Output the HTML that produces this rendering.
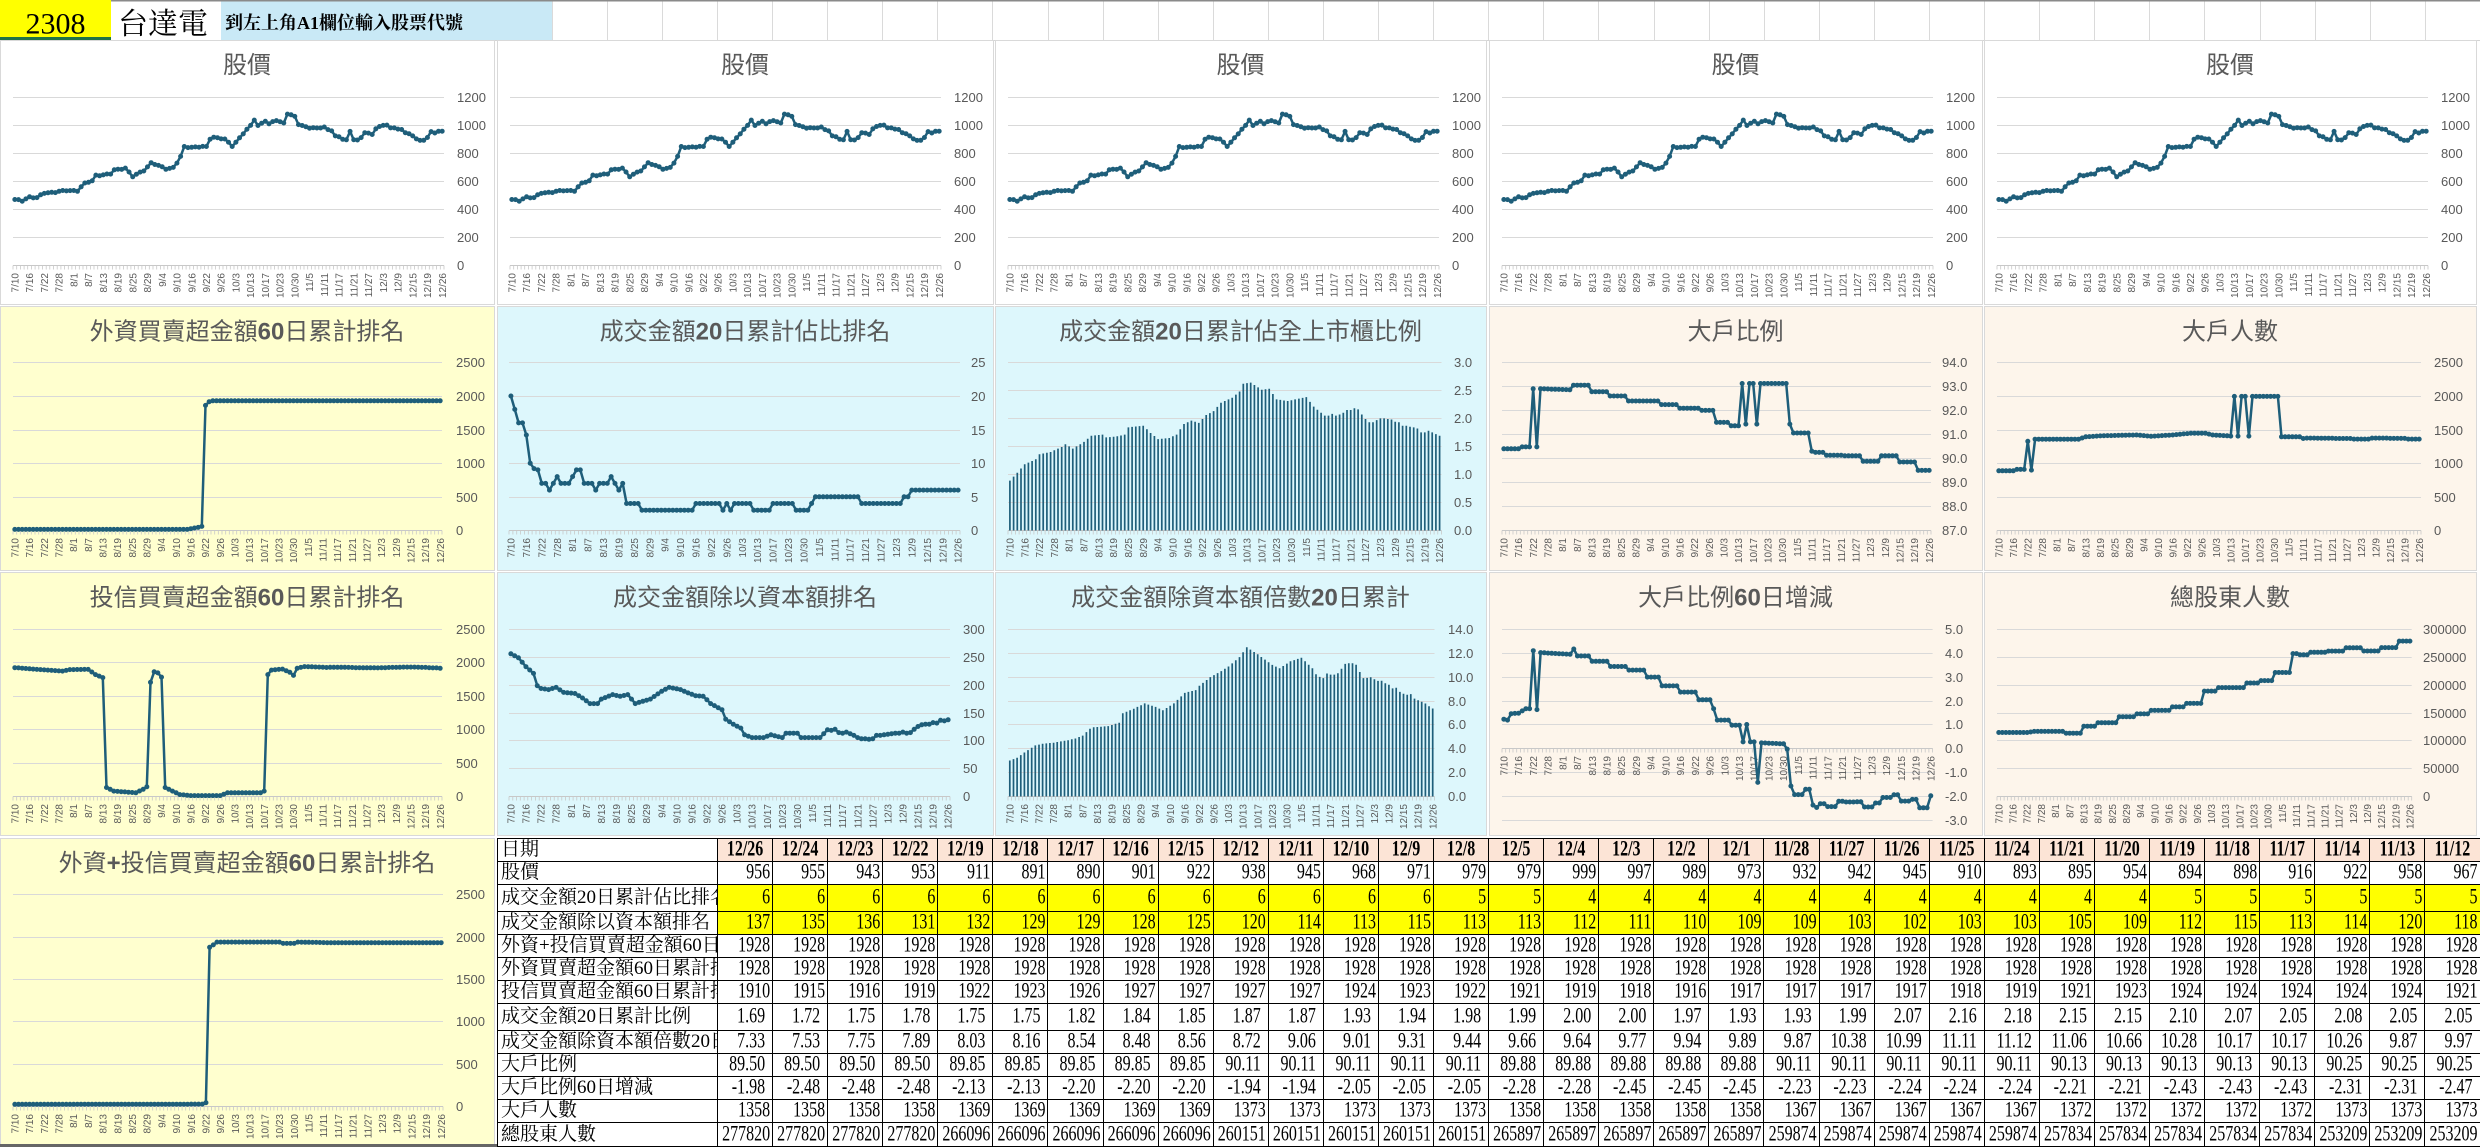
<!DOCTYPE html>
<html><head><meta charset="utf-8">
<style>
body{margin:0;width:2480px;height:1147px;overflow:hidden;background:#fff;position:relative;font-family:"Liberation Sans",sans-serif}
#c{position:absolute;left:0;top:0}
.t{font-family:"Noto Sans CJK TC","Noto Sans CJK SC",sans-serif;font-size:24px;fill:#595959;text-anchor:middle}
.t tspan{font-family:"Liberation Sans",sans-serif;font-weight:bold}
.yl{font-family:"Liberation Sans",sans-serif;font-size:13px;fill:#595959}
.xl{font-family:"Liberation Sans",sans-serif;font-size:10px;fill:#595959;text-anchor:end}
#tb{position:absolute;left:497px;top:838px;border-collapse:collapse;table-layout:fixed;width:1983px}
#tb td{border:1px solid #000;padding:0 2px 0 0;font-family:"Liberation Serif",serif;font-size:16px;text-align:right;white-space:nowrap;overflow:hidden;line-height:20px;color:#000;background:#fff}
#tb td.lb{text-align:left;padding-left:3px;font-family:"Liberation Serif","Noto Serif CJK SC",serif;font-size:19px}
#tb tr.h td{background:#FCE4D6;text-align:center;font-weight:bold;padding:0}
#tb tr.h td.lb{background:#fff;font-weight:normal;text-align:left;padding-left:3px}
#tb tr.y td{background:#ff0}
#tb tr.y td.lb{background:#fff}
#tb tr.d td{padding-right:7px}
#tb tr.d td.lb{padding-right:0}
#tb .n{display:inline-block;transform:scaleY(1.4)}
</style></head><body>
<svg id="c" width="2480" height="1147" viewBox="0 0 2480 1147" xmlns="http://www.w3.org/2000/svg">
<rect x="0" y="0" width="2480" height="1147" fill="#fff"/>
<rect x="111" y="0" width="2369" height="1.5" fill="#8a8a8a"/>
<rect x="0" y="0" width="111" height="37" fill="#ffff00"/>
<rect x="0" y="37" width="111" height="3" fill="#217346"/>
<rect x="0" y="40" width="2.5" height="22" fill="#217346"/>
<rect x="221" y="1.5" width="331" height="38.5" fill="#C9E9F6"/>
<line x1="111" y1="40.5" x2="2480" y2="40.5" stroke="#d4d4d4"/>
<g id="hg"></g>
<text x="55.5" y="33.5" font-family="'Liberation Serif',serif" font-size="30" text-anchor="middle" fill="#000">2308</text>
<text x="118" y="34" font-family="'Liberation Serif','Noto Serif CJK SC',serif" font-size="30" fill="#000">台達電</text>
<text x="225" y="29" font-family="'Liberation Serif','Noto Serif CJK SC',serif" font-size="18" font-weight="bold" fill="#000">到左上角A1欄位輸入股票代號</text>

<g stroke="#d9d9d9" stroke-width="1">
<rect x="0.5" y="40.5" width="494" height="264" fill="#fff"/>
<rect x="497.5" y="40.5" width="496" height="264" fill="#fff"/>
<rect x="995.5" y="40.5" width="491" height="264" fill="#fff"/>
<rect x="1489.5" y="40.5" width="493" height="264" fill="#fff"/>
<rect x="1984.5" y="40.5" width="492" height="264" fill="#fff"/>
<rect x="0.5" y="306.5" width="494" height="264" fill="#FFFFCF"/>
<rect x="497.5" y="306.5" width="496" height="264" fill="#DDF7FC"/>
<rect x="995.5" y="306.5" width="491" height="264" fill="#DDF7FC"/>
<rect x="1489.5" y="306.5" width="493" height="264" fill="#FDF5EB"/>
<rect x="1984.5" y="306.5" width="492" height="264" fill="#FDF5EB"/>
<rect x="0.5" y="572.5" width="494" height="263" fill="#FFFFCF"/>
<rect x="497.5" y="572.5" width="496" height="263" fill="#DDF7FC"/>
<rect x="995.5" y="572.5" width="491" height="263" fill="#DDF7FC"/>
<rect x="1489.5" y="572.5" width="493" height="263" fill="#FDF5EB"/>
<rect x="1984.5" y="572.5" width="492" height="263" fill="#FDF5EB"/>
<rect x="0.5" y="838.5" width="494" height="309" fill="#FFFFCF"/>
</g>

<text class="t" x="247" y="73">股價</text>
<text class="t" x="745" y="73">股價</text>
<text class="t" x="1240.5" y="73">股價</text>
<text class="t" x="1735.5" y="73">股價</text>
<text class="t" x="2230" y="73">股價</text>

<text class="t" x="247" y="339.5">外資買賣超金額<tspan>60</tspan>日累計排名</text>
<text class="t" x="745" y="339.5">成交金額<tspan>20</tspan>日累計佔比排名</text>
<text class="t" x="1240.5" y="339.5">成交金額<tspan>20</tspan>日累計佔全上市櫃比例</text>
<text class="t" x="1735.5" y="339.5">大戶比例</text>
<text class="t" x="2230" y="339.5">大戶人數</text>

<text class="t" x="247" y="605.5">投信買賣超金額<tspan>60</tspan>日累計排名</text>
<text class="t" x="745" y="605.5">成交金額除以資本額排名</text>
<text class="t" x="1240.5" y="605.5">成交金額除資本額倍數<tspan>20</tspan>日累計</text>
<text class="t" x="1735.5" y="605.5">大戶比例<tspan>60</tspan>日增減</text>
<text class="t" x="2230" y="605.5">總股東人數</text>

<text class="t" x="247" y="871">外資<tspan>+</tspan>投信買賣超金額<tspan>60</tspan>日累計排名</text>
<rect x="0" y="1144" width="2480" height="3" fill="#666"/>
</svg>

<table id="tb">
<colgroup><col style="width:220px"><col span="32" style="width:55.09px"></colgroup>
<tr class="h" style="height:23px"><td class="lb">日期</td><td>12/26</td><td>12/24</td><td>12/23</td><td>12/22</td><td>12/19</td><td>12/18</td><td>12/17</td><td>12/16</td><td>12/15</td><td>12/12</td><td>12/11</td><td>12/10</td><td>12/9</td><td>12/8</td><td>12/5</td><td>12/4</td><td>12/3</td><td>12/2</td><td>12/1</td><td>11/28</td><td>11/27</td><td>11/26</td><td>11/25</td><td>11/24</td><td>11/21</td><td>11/20</td><td>11/19</td><td>11/18</td><td>11/17</td><td>11/14</td><td>11/13</td><td>11/12</td></tr>
<tr style="height:23px"><td class="lb">股價</td><td>956</td><td>955</td><td>943</td><td>953</td><td>911</td><td>891</td><td>890</td><td>901</td><td>922</td><td>938</td><td>945</td><td>968</td><td>971</td><td>979</td><td>979</td><td>999</td><td>997</td><td>989</td><td>973</td><td>932</td><td>942</td><td>945</td><td>910</td><td>893</td><td>895</td><td>954</td><td>894</td><td>898</td><td>916</td><td>922</td><td>958</td><td>967</td></tr>
<tr class="y" style="height:27px"><td class="lb">成交金額20日累計佔比排名</td><td>6</td><td>6</td><td>6</td><td>6</td><td>6</td><td>6</td><td>6</td><td>6</td><td>6</td><td>6</td><td>6</td><td>6</td><td>6</td><td>5</td><td>5</td><td>4</td><td>4</td><td>4</td><td>4</td><td>4</td><td>4</td><td>4</td><td>4</td><td>4</td><td>4</td><td>4</td><td>5</td><td>5</td><td>5</td><td>5</td><td>5</td><td>5</td></tr>
<tr class="y" style="height:23px"><td class="lb">成交金額除以資本額排名</td><td>137</td><td>135</td><td>136</td><td>131</td><td>132</td><td>129</td><td>129</td><td>128</td><td>125</td><td>120</td><td>114</td><td>113</td><td>115</td><td>113</td><td>113</td><td>112</td><td>111</td><td>110</td><td>109</td><td>109</td><td>103</td><td>102</td><td>103</td><td>103</td><td>105</td><td>109</td><td>112</td><td>115</td><td>113</td><td>114</td><td>120</td><td>118</td></tr>
<tr style="height:23px"><td class="lb">外資+投信買賣超金額60日累計排名</td><td>1928</td><td>1928</td><td>1928</td><td>1928</td><td>1928</td><td>1928</td><td>1928</td><td>1928</td><td>1928</td><td>1928</td><td>1928</td><td>1928</td><td>1928</td><td>1928</td><td>1928</td><td>1928</td><td>1928</td><td>1928</td><td>1928</td><td>1928</td><td>1928</td><td>1928</td><td>1928</td><td>1928</td><td>1928</td><td>1928</td><td>1928</td><td>1928</td><td>1928</td><td>1928</td><td>1928</td><td>1928</td></tr>
<tr style="height:23px"><td class="lb">外資買賣超金額60日累計排名</td><td>1928</td><td>1928</td><td>1928</td><td>1928</td><td>1928</td><td>1928</td><td>1928</td><td>1928</td><td>1928</td><td>1928</td><td>1928</td><td>1928</td><td>1928</td><td>1928</td><td>1928</td><td>1928</td><td>1928</td><td>1928</td><td>1928</td><td>1928</td><td>1928</td><td>1928</td><td>1928</td><td>1928</td><td>1928</td><td>1928</td><td>1928</td><td>1928</td><td>1928</td><td>1928</td><td>1928</td><td>1928</td></tr>
<tr style="height:23px"><td class="lb">投信買賣超金額60日累計排名</td><td>1910</td><td>1915</td><td>1916</td><td>1919</td><td>1922</td><td>1923</td><td>1926</td><td>1927</td><td>1927</td><td>1927</td><td>1927</td><td>1924</td><td>1923</td><td>1922</td><td>1921</td><td>1919</td><td>1918</td><td>1916</td><td>1917</td><td>1917</td><td>1917</td><td>1917</td><td>1918</td><td>1919</td><td>1921</td><td>1923</td><td>1924</td><td>1924</td><td>1924</td><td>1924</td><td>1924</td><td>1921</td></tr>
<tr class="d" style="height:27px"><td class="lb">成交金額20日累計比例</td><td>1.69</td><td>1.72</td><td>1.75</td><td>1.78</td><td>1.75</td><td>1.75</td><td>1.82</td><td>1.84</td><td>1.85</td><td>1.87</td><td>1.87</td><td>1.93</td><td>1.94</td><td>1.98</td><td>1.99</td><td>2.00</td><td>2.00</td><td>1.97</td><td>1.93</td><td>1.93</td><td>1.99</td><td>2.07</td><td>2.16</td><td>2.18</td><td>2.15</td><td>2.15</td><td>2.10</td><td>2.07</td><td>2.05</td><td>2.08</td><td>2.05</td><td>2.05</td></tr>
<tr class="d" style="height:23px"><td class="lb">成交金額除資本額倍數20日累計</td><td>7.33</td><td>7.53</td><td>7.75</td><td>7.89</td><td>8.03</td><td>8.16</td><td>8.54</td><td>8.48</td><td>8.56</td><td>8.72</td><td>9.06</td><td>9.01</td><td>9.31</td><td>9.44</td><td>9.66</td><td>9.64</td><td>9.77</td><td>9.94</td><td>9.89</td><td>9.87</td><td>10.38</td><td>10.99</td><td>11.11</td><td>11.12</td><td>11.06</td><td>10.66</td><td>10.28</td><td>10.17</td><td>10.17</td><td>10.26</td><td>9.87</td><td>9.97</td></tr>
<tr class="d" style="height:23px"><td class="lb">大戶比例</td><td>89.50</td><td>89.50</td><td>89.50</td><td>89.50</td><td>89.85</td><td>89.85</td><td>89.85</td><td>89.85</td><td>89.85</td><td>90.11</td><td>90.11</td><td>90.11</td><td>90.11</td><td>90.11</td><td>89.88</td><td>89.88</td><td>89.88</td><td>89.88</td><td>89.88</td><td>90.11</td><td>90.11</td><td>90.11</td><td>90.11</td><td>90.11</td><td>90.13</td><td>90.13</td><td>90.13</td><td>90.13</td><td>90.13</td><td>90.25</td><td>90.25</td><td>90.25</td></tr>
<tr class="d" style="height:23px"><td class="lb">大戶比例60日增減</td><td>-1.98</td><td>-2.48</td><td>-2.48</td><td>-2.48</td><td>-2.13</td><td>-2.13</td><td>-2.20</td><td>-2.20</td><td>-2.20</td><td>-1.94</td><td>-1.94</td><td>-2.05</td><td>-2.05</td><td>-2.05</td><td>-2.28</td><td>-2.28</td><td>-2.45</td><td>-2.45</td><td>-2.45</td><td>-2.23</td><td>-2.23</td><td>-2.24</td><td>-2.24</td><td>-2.24</td><td>-2.21</td><td>-2.21</td><td>-2.43</td><td>-2.43</td><td>-2.43</td><td>-2.31</td><td>-2.31</td><td>-2.47</td></tr>
<tr style="height:23px"><td class="lb">大戶人數</td><td>1358</td><td>1358</td><td>1358</td><td>1358</td><td>1369</td><td>1369</td><td>1369</td><td>1369</td><td>1369</td><td>1373</td><td>1373</td><td>1373</td><td>1373</td><td>1373</td><td>1358</td><td>1358</td><td>1358</td><td>1358</td><td>1358</td><td>1367</td><td>1367</td><td>1367</td><td>1367</td><td>1367</td><td>1372</td><td>1372</td><td>1372</td><td>1372</td><td>1372</td><td>1373</td><td>1373</td><td>1373</td></tr>
<tr style="height:24px"><td class="lb">總股東人數</td><td>277820</td><td>277820</td><td>277820</td><td>277820</td><td>266096</td><td>266096</td><td>266096</td><td>266096</td><td>266096</td><td>260151</td><td>260151</td><td>260151</td><td>260151</td><td>260151</td><td>265897</td><td>265897</td><td>265897</td><td>265897</td><td>265897</td><td>259874</td><td>259874</td><td>259874</td><td>259874</td><td>259874</td><td>257834</td><td>257834</td><td>257834</td><td>257834</td><td>257834</td><td>253209</td><td>253209</td><td>253209</td></tr>
</table>

<script>
(function(){
var NS='http://www.w3.org/2000/svg',S=document.getElementById('c'),COL='#1E5E7A',N=117;
function el(t,a,p){var e=document.createElementNS(NS,t);for(var k in a)e.setAttribute(k,a[k]);(p||S).appendChild(e);return e;}
var DL=["7/10","7/16","7/22","7/28","8/1","8/7","8/13","8/19","8/25","8/29","9/4","9/10","9/16","9/22","9/26","10/3","10/13","10/17","10/23","10/30","11/5","11/11","11/17","11/21","11/27","12/3","12/9","12/15","12/19","12/26"];
var TB=document.getElementById('tb');
function tab(r){var c=TB.rows[r].cells,v=[];for(var i=1;i<c.length;i++)v.push(parseFloat(c[i].textContent));return v.reverse();}
function ser(k,r,nz){var o=[];for(var i=0;i<N;i++)o.push(0);
 for(var j=0;j<k.length-1;j++){var a=k[j][0],va=k[j][1],b=k[j+1][0],vb=k[j+1][1];for(var i=a;i<=b;i++)o[i]=va+(vb-va)*(i-a)/(b-a);}
 if(nz)for(var i=1;i<85;i++)o[i]+=(Math.sin(i*7.3)+Math.sin(i*2.1))*nz;
 var t=tab(r);for(var i=0;i<32&&i<t.length;i++)o[85+i]=t[i];return o;}
var hg=document.getElementById('hg'),d0='';
for(var k=-3;k<=32;k++){var x=Math.round(717+55.09*k)+0.5;d0+='M'+x+' 1.5V40';}
el('path',{d:d0,stroke:'#dadada','stroke-width':1,fill:'none'},hg);

function chart(o){
 var n=o.yl.length-1;
 function Y(v){return o.top+(o.bot-o.top)*(o.max-v)/(o.max-o.min);}
 for(var i=0;i<=n;i++){var v=o.min+(o.max-o.min)*i/n;var y=Math.round(Y(v))+0.5;
  el('line',{x1:o.gl,x2:o.gr,y1:y,y2:y,stroke:'#d9d9d9','stroke-width':1});
  var t=el('text',{x:o.lx,y:(y+4.5).toFixed(1),'class':'yl'});t.textContent=o.yl[i];}
 var ya=Math.round(Y(o.ax!==undefined?o.ax:o.min))+0.5;
 var c=(o.gr-o.gl)/N,d='';
 for(var k=0;k<=N;k++){d+='M'+(o.gl+k*c).toFixed(1)+' '+ya+'v4';}
 el('path',{d:d,stroke:'#c8c8c8','stroke-width':0.8,fill:'none'});
 el('line',{x1:o.gl,x2:o.gr,y1:ya,y2:ya,stroke:'#c8c8c8','stroke-width':1});
 var yt=ya+7.5;
 for(var k=0;k<30;k++){var x=o.gl+(4*k+0.5)*c+3.6;var t=el('text',{transform:'translate('+x.toFixed(1)+','+yt+') rotate(-90)','class':'xl'});t.textContent=DL[k];}
 var pts=o.data.map(function(v,i){return [o.gl+(i+0.5)*c,Y(v)];});
 if(o.bar){var d2='';pts.forEach(function(p){d2+='M'+p[0].toFixed(1)+' '+ya+'V'+p[1].toFixed(1);});
  el('path',{d:d2,stroke:COL,'stroke-width':1.7,fill:'none'});}
 else{el('polyline',{points:pts.map(function(p){return p[0].toFixed(1)+','+p[1].toFixed(1);}).join(' '),fill:'none',stroke:COL,'stroke-width':2.5,'stroke-linejoin':'round'});
  var d3='';pts.forEach(function(p){d3+='M'+(p[0]-0.01).toFixed(2)+' '+p[1].toFixed(1)+'h0.02';});
  el('path',{d:d3,stroke:COL,'stroke-width':5,'stroke-linecap':'round',fill:'none'});}
}
var P=ser([[0,468],[2,456],[4,487],[6,482],[8,511],[12,527],[17,532],[18,560],[19,582],[21,599],[22,641],[26,649],[27,677],[30,694],[32,630],[35,677],[37,729],[39,708],[41,689],[43,696],[44,729],[45,772],[46,843],[52,843],[53,903],[54,915],[57,896],[59,850],[60,879],[62,939],[64,993],[65,1038],[66,998],[68,1029],[69,1005],[71,1034],[73,1015],[74,1081],[76,1057],[77,1005],[80,981],[82,974],[84,986]],1,3);
var F=ser([[0,15],[47,15],[48,25],[50,45],[51,60],[52,1860],[53,1915],[54,1928],[84,1928]],5);
var T=ser([[0,1919],[6,1893],[13,1867],[15,1890],[20,1893],[22,1815],[24,1770],[25,131],[27,78],[33,52],[35,105],[36,141],[37,1700],[38,1857],[39,1840],[40,1778],[41,131],[43,78],[45,26],[48,10],[56,10],[58,52],[67,52],[68,78],[69,1815],[70,1883],[73,1898],[75,1850],[76,1804],[77,1909],[79,1935],[84,1925]],6);
var FT=ser([[0,20],[51,22],[52,39],[53,1874],[54,1902],[55,1935],[72,1935],[73,1920],[76,1920],[77,1935],[84,1930]],4);
var R20=ser([[0,20],[1,18],[2,16],[3,16],[4,14.2],[5,10],[6,9.2],[7,9],[8,7],[9,7],[10,6],[11,7],[12,8],[13,7],[15,7],[16,8],[17,9],[18,9],[19,7],[21,7],[22,6],[23,7],[25,7],[26,8],[27,7],[28,6],[29,7],[30,4],[33,4],[34,3],[47,3],[48,4],[54,4],[55,3],[56,4],[57,3],[58,4],[62,4],[63,3],[67,3],[68,4],[73,4],[74,3],[77,3],[78,4],[79,5],[84,5]],2);
var CR=ser([[0,255],[2,248],[4,232],[6,220],[7,198],[8,193],[10,191],[12,195],[14,186],[17,184],[19,176],[21,166],[23,166],[24,174],[27,182],[29,179],[31,182],[33,166],[35,170],[37,174],[40,188],[42,195],[45,191],[47,185],[49,180],[51,179],[52,173],[53,166],[56,155],[57,138],[59,129],[61,122],[62,110],[64,105],[67,105],[69,110],[72,105],[73,113],[76,113],[77,105],[82,105],[84,119]],3);
var RB=ser([[0,0.89],[2,1.03],[4,1.18],[7,1.27],[8,1.36],[11,1.40],[14,1.49],[15,1.54],[17,1.46],[20,1.58],[22,1.69],[25,1.71],[26,1.66],[29,1.68],[31,1.71],[32,1.84],[36,1.87],[38,1.74],[40,1.63],[43,1.65],[45,1.71],[47,1.90],[49,1.96],[51,1.92],[53,2.06],[55,2.13],[57,2.28],[60,2.37],[62,2.48],[63,2.62],[65,2.64],[68,2.51],[70,2.53],[72,2.34],[75,2.31],[77,2.34],[80,2.38],[82,2.21],[84,2.1]],7);
var MB=ser([[0,2.99],[2,3.22],[4,3.66],[7,4.25],[9,4.39],[12,4.48],[16,4.69],[18,4.83],[20,5.07],[22,5.65],[23,5.77],[27,5.86],[30,6.15],[31,6.94],[34,7.32],[37,7.76],[40,7.47],[42,7.18],[45,7.76],[48,8.64],[51,8.87],[52,9.23],[55,9.96],[58,10.46],[60,10.84],[63,11.63],[65,12.45],[68,11.86],[72,10.98],[74,10.69],[77,11.28],[80,11.57],[83,10.69],[84,10.2]],8);
var BH=ser([[0,90.40],[4,90.40],[5,90.48],[7,90.48],[8,92.9],[9,90.48],[10,92.9],[18,92.86],[19,93.05],[23,93.05],[24,92.78],[28,92.78],[29,92.6],[33,92.6],[34,92.39],[42,92.39],[43,92.24],[47,92.24],[48,92.09],[53,92.09],[54,92.0],[57,92.0],[58,91.5],[61,91.5],[62,91.36],[64,91.36],[65,93.12],[66,91.43],[67,93.12],[68,93.12],[69,91.43],[70,93.12],[77,93.12],[78,91.43],[79,91.06],[83,91.06],[84,90.3]],9);
var BH60=ser([[0,1.22],[1,1.18],[2,1.45],[4,1.47],[6,1.66],[7,1.66],[8,4.08],[9,1.62],[10,4.0],[18,3.93],[19,4.15],[20,3.86],[23,3.86],[24,3.64],[28,3.64],[29,3.42],[33,3.42],[34,3.27],[38,3.27],[39,2.98],[42,2.98],[43,2.61],[47,2.61],[48,2.35],[52,2.35],[53,2.03],[56,2.03],[57,1.66],[58,1.18],[61,1.18],[62,0.97],[64,0.97],[65,0.27],[66,1.0],[67,0.27],[68,0.27],[69,-1.42],[70,0.23],[76,0.19],[77,-0.03],[78,-1.57],[79,-1.93],[81,-1.93],[82,-1.71],[83,-1.71],[84,-2.37]],10);
var BC=ser([[0,887],[4,887],[5,908],[7,908],[8,1326],[9,898],[10,1357],[22,1357],[24,1393],[29,1409],[38,1420],[42,1400],[48,1420],[53,1446],[57,1446],[59,1420],[64,1404],[65,1994],[66,1404],[67,1994],[68,1994],[69,1404],[70,1994],[77,1994],[78,1393],[83,1393],[84,1367]],11);
var TS=ser([[0,114226],[8,114226],[10,116109],[18,116109],[19,112971],[23,112971],[24,125523],[27,125523],[28,131800],[33,131800],[34,142469],[38,142469],[39,147490],[42,147490],[43,153766],[48,153766],[49,160042],[52,160042],[53,166318],[57,166318],[58,188285],[61,188285],[62,194561],[69,194561],[70,202720],[73,202720],[74,207113],[77,207113],[78,221548],[82,221548],[83,255439],[84,255439]],12);

var YP=['0','200','400','600','800','1000','1200'],Y25=['0','500','1000','1500','2000','2500'];
[0,497,995,1489,1984].forEach(function(L){chart({gl:L+13,gr:L+444,lx:L+457,top:97,bot:265,min:0,max:1200,yl:YP,data:P});});
chart({gl:13,gr:442,lx:456,top:362.4,bot:530.4,min:0,max:2500,yl:Y25,data:F});
chart({gl:509,gr:960,lx:971,top:362.4,bot:530.4,min:0,max:25,yl:['0','5','10','15','20','25'],data:R20});
chart({gl:1008,gr:1441.5,lx:1454,top:362.4,bot:530.4,min:0,max:3,yl:['0.0','0.5','1.0','1.5','2.0','2.5','3.0'],data:RB,bar:1});
chart({gl:1502,gr:1931,lx:1942,top:362.4,bot:530.4,min:87,max:94,yl:['87.0','88.0','89.0','90.0','91.0','92.0','93.0','94.0'],data:BH});
chart({gl:1997,gr:2421,lx:2434,top:362.4,bot:530.4,min:0,max:2500,yl:Y25,data:BC});
chart({gl:13,gr:442,lx:456,top:628.7,bot:796.3,min:0,max:2500,yl:Y25,data:T});
chart({gl:509,gr:950,lx:963,top:628.7,bot:796.3,min:0,max:300,yl:['0','50','100','150','200','250','300'],data:CR});
chart({gl:1008,gr:1434.5,lx:1448,top:628.7,bot:796.3,min:0,max:14,yl:['0.0','2.0','4.0','6.0','8.0','10.0','12.0','14.0'],data:MB,bar:1});
chart({gl:1502,gr:1932.6,lx:1945,top:628.7,bot:820.2,min:-3,max:5,ax:0,yl:['-3.0','-2.0','-1.0','0.0','1.0','2.0','3.0','4.0','5.0'],data:BH60});
chart({gl:1997,gr:2411.7,lx:2423,top:628.7,bot:796.3,min:0,max:300000,yl:['0','50000','100000','150000','200000','250000','300000'],data:TS});
chart({gl:13,gr:443,lx:456,top:894.3,bot:1106,min:0,max:2500,yl:Y25,data:FT});

var tds=TB.querySelectorAll('td');
for(var i=0;i<tds.length;i++){var td=tds[i];if(td.className==='lb')continue;td.innerHTML='<span class="n">'+td.textContent+'</span>';}
})();
</script>
</body></html>
